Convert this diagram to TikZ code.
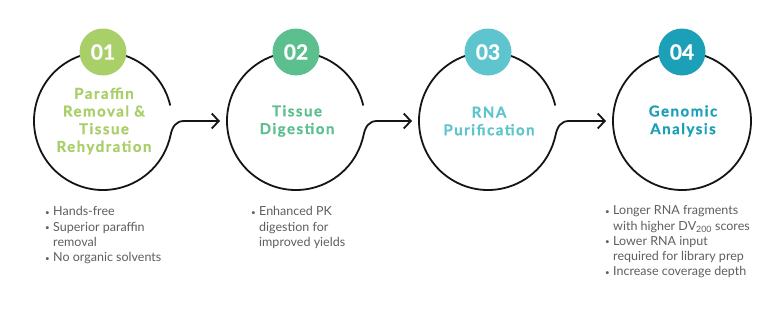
\documentclass[tikz,border=0pt]{standalone}
\usepackage{fontspec}
\setmainfont{Lato}
\newfontfamily\titlefont[LetterSpace=10,FakeBold=0.8]{Lato Bold}
\newfontfamily\numfont[FakeBold=0.8]{Lato Bold}
\usetikzlibrary{arrows.meta}
\definecolor{cA}{HTML}{A8CF68}
\definecolor{cB}{HTML}{5CBF8E}
\definecolor{cC}{HTML}{5EC4CD}
\definecolor{cD}{HTML}{1CA0B8}
\definecolor{txt}{HTML}{5F5F5F}
\definecolor{ink}{HTML}{151515}
\newlength\bw \setlength\bw{8pt}
\newcommand\bl{\makebox[\bw][l]{\raisebox{0.5pt}{\fontsize{8}{8}\selectfont\textbullet}}}
\newcommand\ind{\hspace*{\bw}}
\begin{document}
\begin{tikzpicture}[x=1pt,y=1pt,
  ring/.style={circle, minimum size=138pt, inner sep=0pt, outer sep=0pt},
  title/.style={font=\fontsize{15}{17.7}\selectfont\titlefont, align=center},
  flow/.style={line width=1.8pt, draw=ink},
  arrowflow/.style={flow, -{Straight Barb[length=7pt,width=15pt]}, shorten >=7pt},
  badge/.style={circle, minimum size=47pt, inner sep=0pt, text=white, font=\fontsize{21}{21}\selectfont\numfont},
  bulletlist/.style={anchor=north west, inner sep=0pt, align=left, font=\fontsize{12.5}{15.3}\selectfont, text=txt}]
\useasboundingbox (0,0) rectangle (782,309);
\fill[white] (0,0) rectangle (782,309);

\node[ring] (c1) at (103,188) {};
\node[ring] (c2) at (296,188) {};
\node[ring] (c3) at (488,188) {};
\node[ring] (c4) at (682,188) {};

\draw[arrowflow] (c1.13) arc[start angle=13, end angle=348, radius=69pt]
  .. controls +(78:9) and +(-8,0) .. ([xshift=12pt]c1.east) -- (c2.west);
\draw[arrowflow] (c2.13) arc[start angle=13, end angle=348, radius=69pt]
  .. controls +(78:9) and +(-8,0) .. ([xshift=12pt]c2.east) -- (c3.west);
\draw[arrowflow] (c3.13) arc[start angle=13, end angle=348, radius=69pt]
  .. controls +(78:9) and +(-8,0) .. ([xshift=12pt]c3.east) -- (c4.west);
\draw[flow] (c4.center) circle (69pt);

\foreach \n/\c in {1/cA,2/cB,3/cC,4/cD}{
  \fill[\c] (c\n.center) ++(-10,90) -- ++(10,-8) -- ++(10,8) -- cycle;
}
\node[badge, fill=cA] (b1) at (103,257) {01};
\node[badge, fill=cB] (b2) at (296,257) {02};
\node[badge, fill=cC] (b3) at (488,257) {03};
\node[badge, fill=cD] (b4) at (682,257) {04};

\node[title, text=cA] (t1) at (104,188) {Paraffin\\Removal \&\\Tissue\\Rehydration};
\node[title, text=cB] (t2) at (297,188) {Tissue\\Digestion};
\node[title, text=cC] (t3) at (489,188) {RNA\\Purification};
\node[title, text=cD] (t4) at (683,188) {Genomic\\Analysis};

\node[bulletlist] (l1) at (45,102.5) {\bl Hands-free\\\bl Superior paraffin\\\ind removal\\\bl No organic solvents};
\node[bulletlist] (l2) at (251,102.5) {\bl Enhanced PK\\\ind digestion for\\\ind improved yields};
\node[bulletlist] (l4) at (605,103.5) {\bl Longer RNA fragments\\\ind with higher DV\textsubscript{200} scores\\\bl Lower RNA input\\\ind required for library prep\\\bl Increase coverage depth};
\end{tikzpicture}
\end{document}
